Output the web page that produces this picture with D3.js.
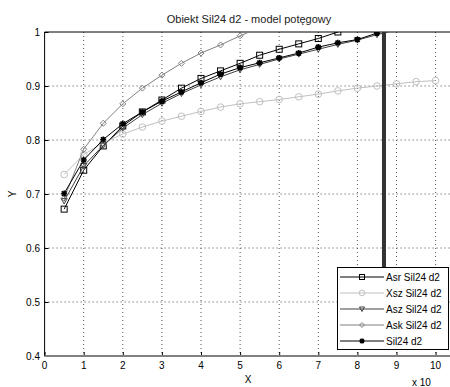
<!DOCTYPE html>
<html>
<head>
<meta charset="utf-8">
<script src="https://cdn.jsdelivr.net/npm/d3@7"></script>
<style>
  body { margin: 0; background: #fff; }
  text { font-family: "Liberation Sans", Arial, sans-serif; }
</style>
</head>
<body>
<div id="chart"></div>
<script>
// x positions of the points (axis is scaled, "x 10^..." exponent cut off)
const xs = [0.5, 1, 1.5, 2, 2.5, 3, 3.5, 4, 4.5, 5, 5.5, 6, 6.5, 7, 7.5, 8, 8.5, 9, 9.5, 10];

// series values (values above 1 get clipped)
const asrVals = [0.672, 0.744, 0.789, 0.826, 0.852, 0.874, 0.896, 0.914, 0.928, 0.942, 0.957, 0.968, 0.978, 0.988, 1.0, 1.01];
const xszVals = [0.736, 0.773, 0.795, 0.811, 0.824, 0.835, 0.844, 0.853, 0.861, 0.867, 0.871, 0.875, 0.880, 0.885, 0.891, 0.896, 0.900, 0.904, 0.908, 0.910];
const aszVals = [0.687, 0.752, 0.790, 0.822, 0.847, 0.868, 0.886, 0.902, 0.917, 0.930, 0.940, 0.950, 0.959, 0.968, 0.977, 0.985, 0.995, 1.004];
const askVals = [0.692, 0.783, 0.831, 0.867, 0.896, 0.920, 0.942, 0.961, 0.976, 0.993, 1.008];
const silVals = [0.701, 0.763, 0.801, 0.830, 0.852, 0.872, 0.889, 0.906, 0.922, 0.934, 0.943, 0.952, 0.961, 0.972, 0.980, 0.986, 0.998];

// vertical limit line
const limitX = 8.68;
const limitY = [0.48, 1.0];

const xTicks = [0, 1, 2, 3, 4, 5, 6, 7, 8, 9, 10];
const yTicks = [0.4, 0.5, 0.6, 0.7, 0.8, 0.9, 1];

const series = [
  { name: "Asr Sil24 d2", vals: asrVals, color: "#000", marker: "square" },
  { name: "Xsz Sil24 d2", vals: xszVals, color: "#c0c0c0", marker: "circle" },
  { name: "Asz Sil24 d2", vals: aszVals, color: "#404040", marker: "triangle" },
  { name: "Ask Sil24 d2", vals: askVals, color: "#808080", marker: "diamond" },
  { name: "Sil24 d2", vals: silVals, color: "#000", marker: "star" }
];

const width = 450, height = 387;
const plotLeft = 44.6, plotTop = 32, plotBottom = 356;

const x = d3.scaleLinear().domain([0, 10.5]).range([plotLeft, plotLeft + 10.5 * 39.1]);
const y = d3.scaleLinear().domain([0.4, 1]).range([plotBottom, plotTop]);

const svg = d3.select("#chart").append("svg")
  .attr("width", width)
  .attr("height", height);

svg.append("defs").append("clipPath")
  .attr("id", "plot-clip")
  .append("rect")
  .attr("x", plotLeft).attr("y", plotTop)
  .attr("width", x(10.5) - plotLeft).attr("height", plotBottom - plotTop);

// grid
svg.append("g")
  .selectAll("line")
  .data(xTicks.slice(1))
  .enter().append("line")
  .attr("x1", d => x(d)).attr("x2", d => x(d))
  .attr("y1", plotTop).attr("y2", plotBottom)
  .attr("stroke", "#555")
  .attr("stroke-dasharray", "1,3");

svg.append("g")
  .selectAll("line")
  .data(yTicks.slice(1, -1))
  .enter().append("line")
  .attr("x1", plotLeft).attr("x2", width)
  .attr("y1", d => y(d)).attr("y2", d => y(d))
  .attr("stroke", "#444")
  .attr("stroke-dasharray", "1,3");

// axes with inward ticks
const xAxis = svg.append("g")
  .attr("transform", `translate(0,${plotBottom})`)
  .call(d3.axisTop(x).tickValues(xTicks).tickSize(4).tickFormat(""));
xAxis.select(".domain").remove();

svg.selectAll(".xlab")
  .data(xTicks)
  .enter().append("text")
  .attr("x", d => x(d))
  .attr("y", 369)
  .attr("text-anchor", "middle")
  .attr("font-size", 10)
  .text(d => d);

const yAxis = svg.append("g")
  .attr("transform", `translate(${plotLeft},0)`)
  .call(d3.axisRight(y).tickValues(yTicks).tickSize(4).tickFormat(""));
yAxis.select(".domain").remove();

svg.selectAll(".ylab")
  .data(yTicks)
  .enter().append("text")
  .attr("x", 40)
  .attr("y", d => y(d) + 3.5)
  .attr("text-anchor", "end")
  .attr("font-size", 10)
  .text(d => d);

// frame
svg.append("line").attr("x1", plotLeft).attr("x2", width).attr("y1", plotTop).attr("y2", plotTop).attr("stroke", "#000");
svg.append("line").attr("x1", plotLeft).attr("x2", plotLeft).attr("y1", plotTop).attr("y2", plotBottom).attr("stroke", "#000");
svg.append("line").attr("x1", plotLeft).attr("x2", width).attr("y1", plotBottom).attr("y2", plotBottom)
  .attr("stroke", "#808080").attr("stroke-width", 2);

// markers
function drawMarker(g, type, cx, cy, color, s) {
  if (type === "square") {
    g.append("rect").attr("x", cx - s).attr("y", cy - s).attr("width", 2 * s).attr("height", 2 * s)
      .attr("fill", "none").attr("stroke", color);
  } else if (type === "circle") {
    g.append("circle").attr("cx", cx).attr("cy", cy).attr("r", s + 0.3)
      .attr("fill", "none").attr("stroke", color);
  } else if (type === "triangle") {
    g.append("path").attr("d", `M${cx - s},${cy - s * 0.8}L${cx + s},${cy - s * 0.8}L${cx},${cy + s}Z`)
      .attr("fill", "none").attr("stroke", color);
  } else if (type === "diamond") {
    g.append("path").attr("d", `M${cx},${cy - s}L${cx + s},${cy}L${cx},${cy + s}L${cx - s},${cy}Z`)
      .attr("fill", "none").attr("stroke", color);
  } else if (type === "star") {
    g.append("path")
      .attr("d", `M${cx - s},${cy}L${cx + s},${cy}M${cx},${cy - s}L${cx},${cy + s}` +
        `M${cx - s * 0.75},${cy - s * 0.75}L${cx + s * 0.75},${cy + s * 0.75}` +
        `M${cx - s * 0.75},${cy + s * 0.75}L${cx + s * 0.75},${cy - s * 0.75}`)
      .attr("stroke", color).attr("stroke-width", 1.6);
  }
}

const plot = svg.append("g").attr("clip-path", "url(#plot-clip)");
const line = d3.line().x(d => x(d[0])).y(d => y(d[1]));

series.forEach(s => {
  const pts = s.vals.map((v, i) => [xs[i], v]);
  plot.append("path")
    .datum(pts)
    .attr("d", line)
    .attr("fill", "none")
    .attr("stroke", s.color)
    .attr("stroke-width", 1);
  const mg = plot.append("g");
  pts.filter(p => p[1] <= 1.003).forEach(p => drawMarker(mg, s.marker, x(p[0]), y(p[1]), s.color, 3));
});

// thick vertical line
plot.append("line")
  .attr("x1", x(limitX)).attr("x2", x(limitX))
  .attr("y1", y(limitY[0])).attr("y2", y(limitY[1]))
  .attr("stroke", "#333")
  .attr("stroke-width", 4);

// title and labels
svg.append("text")
  .attr("x", 249).attr("y", 23)
  .attr("text-anchor", "middle")
  .attr("font-size", 11)
  .attr("fill", "#222")
  .text("Obiekt Sil24 d2 - model potęgowy");

svg.append("text")
  .attr("x", 248).attr("y", 383)
  .attr("text-anchor", "middle")
  .attr("font-size", 10)
  .text("X");

svg.append("text")
  .attr("transform", "translate(16,194) rotate(-90)")
  .attr("text-anchor", "middle")
  .attr("font-size", 10)
  .text("Y");

svg.append("text")
  .attr("x", 412).attr("y", 386)
  .attr("font-size", 10)
  .text("x 10");

// legend
const legend = svg.append("g");
legend.append("rect")
  .attr("x", 337.5).attr("y", 267.5)
  .attr("width", 111).attr("height", 82)
  .attr("fill", "#fff")
  .attr("stroke", "#000");

series.forEach((s, i) => {
  const ly = 277 + i * 16;
  legend.append("line")
    .attr("x1", 340).attr("x2", 384)
    .attr("y1", ly).attr("y2", ly)
    .attr("stroke", s.color);
  drawMarker(legend, s.marker, 362, ly, s.color, 2.5);
  legend.append("text")
    .attr("x", 386).attr("y", ly + 3.5)
    .attr("font-size", 10)
    .text(s.name);
});
</script>
</body>
</html>
